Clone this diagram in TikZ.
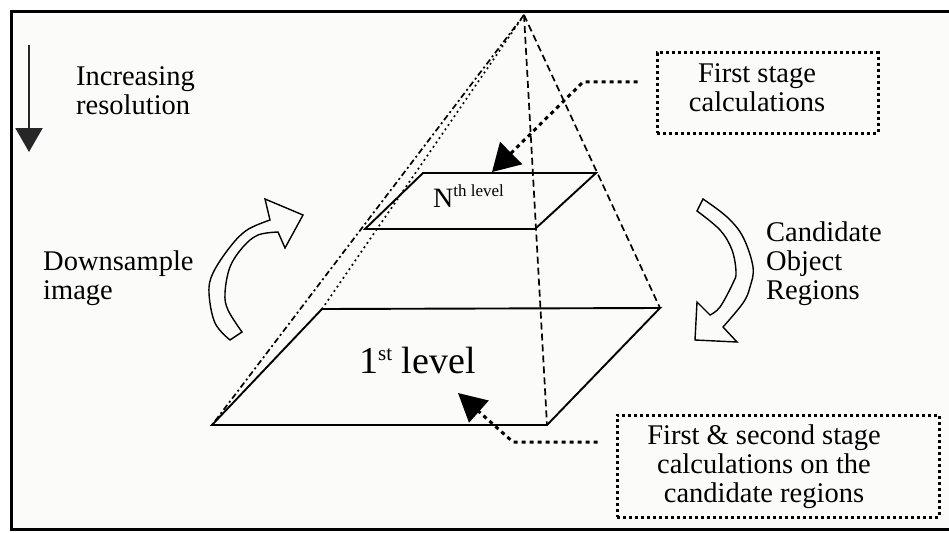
\documentclass[tikz,border=0pt]{standalone}
\usepackage{fontspec}
\setmainfont{Liberation Serif}
\usetikzlibrary{arrows.meta}
\definecolor{bgc}{RGB}{251,252,250}
\begin{document}
\begin{tikzpicture}[x=1pt,y=-1pt,
  txt/.style={font=\fontsize{28.5}{29}\selectfont, inner sep=0pt},
  slab/.style={line width=1.9pt, line join=miter},
  edgedash/.style={line width=1.7pt, dash pattern=on 7pt off 4pt},
  edgedot/.style={line width=1.7pt, dash pattern=on 1.8pt off 3.5pt},
  edgedashdot/.style={line width=1.7pt, dash pattern=on 6pt off 3pt on 2pt off 3pt},
  dotbox/.style={draw, line width=3pt, dash pattern=on 3pt off 3pt, inner sep=0pt},
  dotconn/.style={line width=3pt, dash pattern=on 4pt off 4pt},
  blockarrow/.style={line width=1.4pt, line join=miter},
  frame/.style={line width=3.4pt},
]
\useasboundingbox (0,0) rectangle (949,532);
\fill[white] (0,0) rectangle (949,532);
\fill[bgc] (11.5,11.5) rectangle (949,529.5);
\draw[frame] (10,11.5) -- (949,11.5);
\draw[frame] (11.5,10) -- (11.5,531);
\draw[frame] (10,529.5) -- (949,529.5);

% pyramid corners
\coordinate (apex) at (524,15);
\coordinate (FL) at (212,425);
\coordinate (FR) at (547,425);
\coordinate (BR) at (660,308);
\coordinate (BL) at (322,309);
% Nth level corners
\coordinate (NTL) at (423,173);
\coordinate (NTR) at (596,173);
\coordinate (NBR) at (535,229);
\coordinate (NBL) at (365,229);

% pyramid edges
\draw[edgedashdot] (apex) -- (FL);
\draw[edgedot] (apex) -- (BL);
\draw[edgedash] (apex) -- (FR);
\draw[edgedash] (apex) -- (BR);

% slabs
\draw[slab] (FL) -- (FR) -- (BR) -- (BL) -- cycle;
\draw[slab] (NTL) -- (NTR) -- (NBR) -- (NBL) -- cycle;

% level labels
\node[inner sep=0pt, anchor=base west] (nth) at (433,207)
  {\fontsize{28}{28}\selectfont N\raisebox{11pt}{\fontsize{17}{17}\selectfont th level}};
\node[inner sep=0pt, anchor=base west] (first) at (359,373)
  {\fontsize{38}{38}\selectfont 1\raisebox{13pt}{\fontsize{21}{21}\selectfont st} level};

% resolution arrow
\coordinate (resTop) at (29,45);
\coordinate (resBot) at (29,152);
\draw[line width=2.2pt, black!85, -{Triangle[length=24pt,width=27pt]}] (resTop) -- (resBot);
\node[txt, align=left, anchor=north west] (inc) at (76,66) {Increasing\\resolution};

% downsample text and curved arrow
\node[txt, align=left, anchor=north west] (down) at (43,251) {Downsample\\image};
\draw[blockarrow] plot[smooth, tension=0.6] coordinates {(230,340) (215,323) (209,293) (213,273) (230,247) (247,230) (270,220)}
  -- (265,199) -- (303,215) -- (285,248) -- (278,232)
  -- plot[smooth, tension=0.6] coordinates {(278,232) (258,235) (243,247) (230,267) (225,293) (228,310) (242,332)}
  -- cycle;

% candidate text and curved arrow
\node[txt, align=left, anchor=north west] (cand) at (766,222) {Candidate\\Object\\Regions};
\draw[blockarrow] plot[smooth, tension=0.6] coordinates {(703,199) (727,217) (743,237) (753,267) (750,287) (743,303) (723,327)}
  -- (737,342) -- (695,340) -- (697,302) -- (710,315)
  -- plot[smooth, tension=0.6] coordinates {(710,315) (720,307) (733,283) (736,272) (732,250) (720,230) (697,211)}
  -- cycle;

% first stage box
\node[dotbox, minimum width=221pt, minimum height=80pt] (fsbox) at (767.5,93) {};
\node[txt, align=center, anchor=north] (fstext) at (757,63) {First stage\\calculations};
\coordinate (tipN) at (492,172);
\draw[dotconn, shorten <=18pt, -{Triangle[length=27pt,width=31pt]}] ([yshift=11pt]fsbox.west) -- (583,82) -- (tipN);

% second stage box
\node[dotbox, minimum width=322pt, minimum height=102pt] (ssbox) at (778,466) {};
\node[txt, align=center, anchor=north] (sstext) at (764,425) {First \& second stage\\calculations on the\\candidate regions};
\coordinate (tip1) at (458,393);
\draw[dotconn, shorten <=18pt, -{Triangle[length=28pt,width=29pt]}] ([yshift=24pt]ssbox.west) -- (513,442) -- (tip1);
\end{tikzpicture}
\end{document}
